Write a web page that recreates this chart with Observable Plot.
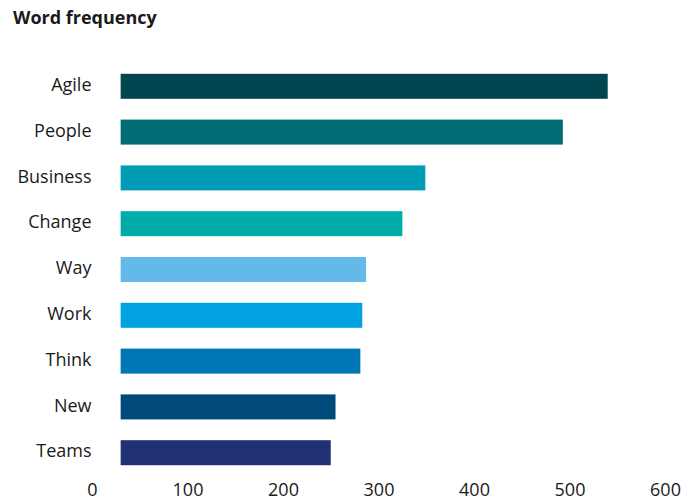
<!DOCTYPE html>
<html>
<head>
<meta charset="utf-8">
<script src="https://cdn.jsdelivr.net/npm/d3@7"></script>
<script src="https://cdn.jsdelivr.net/npm/@observablehq/plot@0.6"></script>
<style>
  html, body { margin: 0; padding: 0; background: #fff; }
  #title {
    font-family: "Open Sans", sans-serif;
    font-weight: 700;
    font-size: 18px;
    color: #1a1a1a;
    height: 40px;
    box-sizing: border-box;
    padding: 5px 0 0 13px;
    line-height: normal;
  }
  #chart svg { display: block; }
</style>
</head>
<body>
<div id="title">Word frequency</div>
<div id="chart"></div>
<script>
const words = ["Agile", "People", "Business", "Change", "Way", "Work", "Think", "New", "Teams"];
const counts = [540, 493, 349, 325, 287, 283, 281, 255, 250];
const colors = ["#00454f", "#006d77", "#009bb4", "#00aca9", "#63b9e8", "#00a3e0", "#0077b5", "#004a7b", "#1f3173"];
const xTicks = [0, 100, 200, 300, 400, 500, 600];
const baseline = 30;

const data = words.map((w, i) => ({word: w, count: counts[i]}));

const chart = Plot.plot({
  width: 699,
  height: 462,
  marginLeft: 92,
  marginRight: 34,
  marginTop: 13,
  marginBottom: 16,
  style: {fontFamily: "'Open Sans', sans-serif", fontSize: "18px", color: "#1a1a1a", background: "#fff"},
  x: {domain: [0, 600], label: null},
  y: {domain: words, padding: 0.454, round: false, label: null},
  color: {domain: words, range: colors},
  marks: [
    Plot.barX(data, {y: "word", x1: baseline, x2: "count", fill: "word"}),
    Plot.axisX({ticks: xTicks, tickSize: 0, tickPadding: -3, label: null, fontSize: 18}),
    Plot.axisY({tickSize: 0, tickPadding: 1, dy: -1.5, label: null, fontSize: 18})
  ]
});
document.getElementById("chart").appendChild(chart);
</script>
</body>
</html>
